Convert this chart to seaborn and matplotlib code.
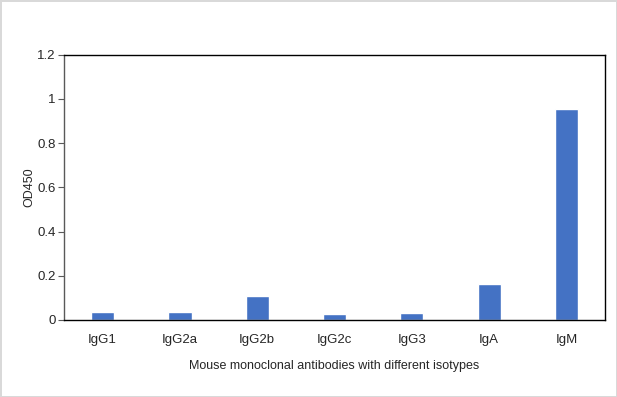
import seaborn as sns
import matplotlib.pyplot as plt
import pandas as pd

# Isotypes and OD450 readings
isotypes = ['IgG1', 'IgG2a', 'IgG2b', 'IgG2c', 'IgG3', 'IgA', 'IgM']
od450 = [0.035, 0.036, 0.110, 0.029, 0.032, 0.162, 0.954]
yticks = [0, 0.2, 0.4, 0.6, 0.8, 1, 1.2]
ytick_labels = ['0', '0.2', '0.4', '0.6', '0.8', '1', '1.2']

df = pd.DataFrame({'Isotype': isotypes, 'OD450': od450})

sns.set_style('white')
plt.rcParams['font.family'] = ['Liberation Sans', 'DejaVu Sans']

fig = plt.figure(figsize=(6.17, 3.97), dpi=100)
fig.patch.set_edgecolor('#d9d9d9')
fig.patch.set_linewidth(2)
ax = fig.add_axes([0.1037, 0.194, 0.877, 0.668])

sns.barplot(data=df, x='Isotype', y='OD450', color='#4472C4', width=0.3,
            saturation=1, ax=ax)

ax.set_ylim(0, 1.2)
ax.set_xlim(-0.5, len(isotypes) - 0.5)
ax.set_yticks(yticks)
ax.set_yticklabels(ytick_labels, fontsize=9.5)
ax.tick_params(axis='x', labelsize=9.5, length=0, pad=10)
ax.tick_params(axis='y', left=True, length=4, width=0.8, color='#595959', pad=2)

ax.set_xlabel('Mouse monoclonal antibodies with different isotypes', fontsize=9, labelpad=10)
ax.set_ylabel('OD450', fontsize=9, labelpad=1)

for side in ['top', 'right', 'bottom']:
    ax.spines[side].set_color('black')
    ax.spines[side].set_linewidth(1)
ax.spines['left'].set_color('#595959')
ax.spines['left'].set_linewidth(1)

fig.savefig('out.png', dpi=100, edgecolor=fig.get_edgecolor())
